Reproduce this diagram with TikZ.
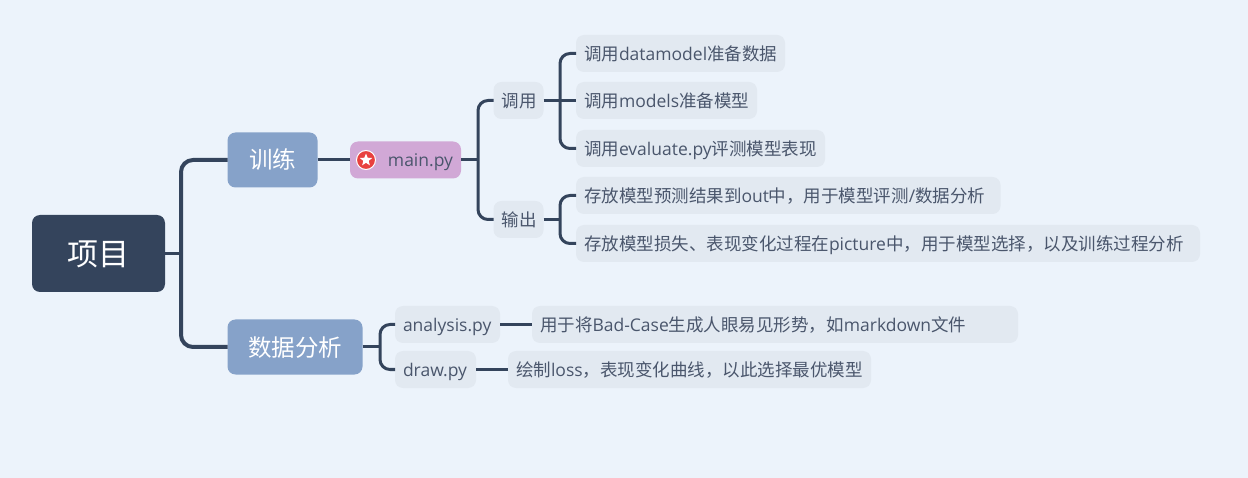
\documentclass[tikz,border=0pt]{standalone}
\usepackage{fontspec}
\setmainfont{Open Sans}
\newfontfamily\cjkf{Noto Sans CJK SC}
\newcommand{\C}[1]{{\cjkf #1}}
\usetikzlibrary{shapes.geometric}
\definecolor{bgc}{HTML}{ECF3FB}
\definecolor{rootc}{HTML}{34445C}
\definecolor{mainc}{HTML}{86A2C9}
\definecolor{subc}{HTML}{D1A8D6}
\definecolor{leafc}{HTML}{E2E9F1}
\definecolor{txtc}{HTML}{4A566C}
\definecolor{linec}{HTML}{34445C}
\definecolor{redc}{HTML}{E8413F}
\tikzset{
  x=1pt,y=-1pt,
  boxbase/.style={inner sep=0pt,outer sep=0pt,rounded corners=8pt,anchor=center},
  rootbox/.style={boxbase,fill=rootc,text=white,minimum width=133pt,minimum height=77pt,font=\fontsize{31}{33}\selectfont,text height=25pt,text depth=0pt},
  mainbox/.style={boxbase,fill=mainc,text=white,minimum height=55pt,font=\fontsize{23.5}{26}\selectfont,text height=18pt,text depth=0pt},
  purplebox/.style={boxbase,fill=subc,text=txtc,minimum height=37pt,font=\fontsize{17.5}{20}\selectfont,text height=14.5pt,text depth=0.5pt},
  leafbox/.style={boxbase,fill=leafc,text=txtc,minimum height=37pt,font=\fontsize{17.5}{20}\selectfont,text height=14.5pt,text depth=0.5pt,align=left},
  lw/.style={minimum width=#1pt,text width=#1pt-16pt},
  conn/.style={draw=linec,line width=3pt,rounded corners=10pt},
  thickconn/.style={draw=linec,line width=4pt,rounded corners=12pt},
}
\begin{document}
\begin{tikzpicture}
\useasboundingbox (0,0) rectangle (1248,478);
\fill[bgc] (0,0) rectangle (1248,478);
\node[rootbox] (root) at (98.5,253.5) {\C{项目}};
\node[mainbox,minimum width=90pt] (train) at (272.5,160) {\C{训练}};
\node[mainbox,minimum width=135pt] (ana) at (295,347) {\C{数据分析}};
\node[purplebox,minimum width=111pt,text width=95pt,align=right] (main) at (405.5,160) {main.py};
\node[draw=white,line width=1pt,fill=redc,circle,minimum size=19pt,inner sep=0pt] (icon) at (366,160) {};
\node[fill=white,star,star points=5,star point ratio=2.3,minimum size=13pt,inner sep=0pt] (starmark) at (366,160) {};
\node[leafbox,lw=50] (call) at (518.5,100.5) {\C{调用}};
\node[leafbox,lw=50] (out) at (518.5,219.5) {\C{输出}};
\node[leafbox,lw=209] (l1) at (680.5,53.5) {\C{调用}datamodel\C{准备数据}};
\node[leafbox,lw=181] (l2) at (666.5,100.5) {\C{调用}models\C{准备模型}};
\node[leafbox,lw=249] (l3) at (700.5,148.5) {\C{调用}evaluate.py\C{评测模型表现}};
\node[leafbox,lw=424.5] (l4) at (788.25,195.5) {\C{存放模型预测结果到}out\C{中，用于模型评测}/\C{数据分析}};
\node[leafbox,lw=624] (l5) at (888,243.5) {\C{存放模型损失、表现变化过程在}picture\C{中，用于模型选择，以及训练过程分析}};
\node[leafbox,lw=105] (apy) at (447.5,324.5) {analysis.py};
\node[leafbox,lw=81] (dpy) at (435.5,369.5) {draw.py};
\node[leafbox,lw=486] (al) at (775,324.5) {\C{用于将}Bad-Case\C{生成人眼易见形势，如}markdown\C{文件}};
\node[leafbox,lw=363] (dl) at (689.5,369.5) {\C{绘制}loss\C{，表现变化曲线，以此选择最优模型}};
\coordinate (s0) at (181,253.5);
\coordinate (s1) at (478,160);
\coordinate (s2) at (560,100.5);
\coordinate (s3) at (560,219.5);
\coordinate (s4) at (380,347);
\draw[conn] (root.east) -- (s0);
\draw[thickconn] (train.west) -| (s0) |- (ana.west);
\draw[conn] (train.east) -- (main.west);
\draw[conn] (main.east) -- (s1);
\draw[conn] (call.west) -| (s1) |- (out.west);
\draw[conn] (call.east) -- (l2.west);
\draw[conn] (l1.west) -| (s2) |- (l3.west);
\draw[conn] (out.east) -- (s3);
\draw[conn] (l4.west) -| (s3) |- (l5.west);
\draw[conn] (ana.east) -- (s4);
\draw[conn] (apy.west) -| (s4) |- (dpy.west);
\draw[conn] (apy.east) -- (al.west);
\draw[conn] (dpy.east) -- (dl.west);
\end{tikzpicture}
\end{document}
